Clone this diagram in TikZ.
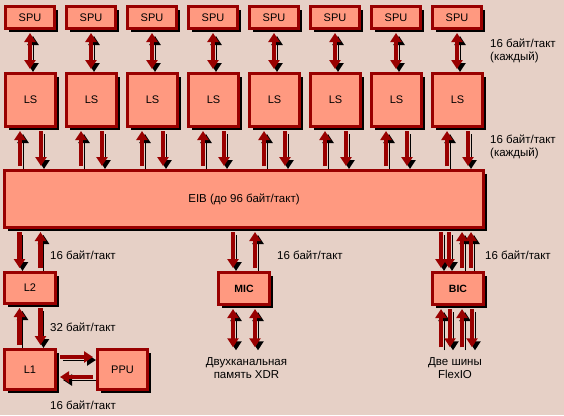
\documentclass[tikz,border=0pt]{standalone}
\usepackage{fontspec}
\setmainfont{Liberation Sans}
\usetikzlibrary{positioning,shadows,arrows.meta}
\definecolor{bgc}{HTML}{E6D0C6}
\definecolor{boxfill}{HTML}{FF9980}
\definecolor{boxline}{HTML}{990000}
\tikzstyle{blk} = [draw=boxline, fill=boxfill, line width=3pt, inner sep=0pt, font=\fontsize{11}{13}\selectfont, drop shadow={shadow xshift=3pt, shadow yshift=-3pt, fill=black, opacity=1}]
\tikzstyle{bus} = [line width=4.5pt, draw=boxline, -{Triangle[width=11pt,length=9pt]}, shorten <=3pt, shorten >=3pt, preaction={draw=black, transform canvas={xshift=3pt, yshift=-3pt}}]
\tikzstyle{bus2} = [bus, {Triangle[width=11pt,length=9pt]}-{Triangle[width=11pt,length=9pt]}]
\tikzstyle{rate} = [font=\fontsize{11.5}{13}\selectfont, inner sep=0pt, align=left]

\begin{document}
\begin{tikzpicture}[x=1pt,y=-1pt]
			\fill[bgc] (0,0) rectangle (564,415);
			% SPU and LS columns
			\foreach \i in {1,...,8}{
				\node[blk, minimum width=49pt, minimum height=22pt] (spu\i) at ({30+61*(\i-1)},17.5) {SPU};
				\node[blk, minimum width=50pt, minimum height=53pt] (ls\i) at ({30.5+61*(\i-1)},100) {LS};
			}
			\node[blk, minimum width=479pt, minimum height=57pt, font=\fontsize{11.5}{13}\selectfont] (eib) at (244,199) {EIB (до 96 байт/такт)};
			\node[blk, minimum width=51pt, minimum height=31pt] (l2) at (30,288) {L2};
			\node[blk, minimum width=51pt, minimum height=40pt] (l1) at (30,369.5) {L1};
			\node[blk, minimum width=50pt, minimum height=40pt] (ppu) at (122.5,369.5) {PPU};
			\node[blk, minimum width=51pt, minimum height=32pt, font=\fontsize{10.5}{12}\bfseries\selectfont] (mic) at (244,288.5) {MIC};
			\node[blk, minimum width=51pt, minimum height=32pt, font=\fontsize{10.5}{12}\bfseries\selectfont] (bic) at (458,288.5) {BIC};
			\node[rate, align=center] (xdr) at (246.5,368) {Двухканальная\\память XDR};
			\node[rate, align=center] (flex) at (455,368) {Две шины\\FlexIO};
			% buses
			\foreach \i in {1,...,8}{
				\draw[bus2] (spu\i.south) -- (spu\i.south |- ls\i.north);
				\draw[bus] ([xshift=-10.5pt]ls\i.south |- eib.north) -- ([xshift=-10.5pt]ls\i.south);
				\draw[bus] ([xshift=10.5pt]ls\i.south) -- ([xshift=10.5pt]ls\i.south |- eib.north);
			}
			\draw[bus] ([xshift=-10.5pt]l2.north |- eib.south) -- ([xshift=-10.5pt]l2.north);
			\draw[bus] ([xshift=10.5pt]l2.north) -- ([xshift=10.5pt]l2.north |- eib.south);
			\draw[bus] ([xshift=-10.5pt]l1.north) -- ([xshift=-10.5pt]l2.south);
			\draw[bus] ([xshift=10.5pt]l2.south) -- ([xshift=10.5pt]l1.north);
			\draw[bus] ([yshift=12.5pt]l1.east) -- ([yshift=12.5pt]ppu.west);
			\draw[bus] ([yshift=-7.5pt]ppu.west) -- ([yshift=-7.5pt]l1.east);
			\draw[bus] ([xshift=-11pt]mic.north |- eib.south) -- ([xshift=-11pt]mic.north);
			\draw[bus] ([xshift=11pt]mic.north) -- ([xshift=11pt]mic.north |- eib.south);
			\draw[bus2, shorten >=10pt] ([xshift=-11pt]mic.south) -- ([xshift=-11pt]mic.south |- xdr.north);
			\draw[bus2, shorten >=10pt] ([xshift=11pt]mic.south) -- ([xshift=11pt]mic.south |- xdr.north);
			\foreach \dx in {-17,-9}
				\draw[bus] ([xshift=\dx pt]bic.north |- eib.south) -- ([xshift=\dx pt]bic.north);
			\foreach \dx in {4,13}
				\draw[bus] ([xshift=\dx pt]bic.north) -- ([xshift=\dx pt]bic.north |- eib.south);
			\foreach \dx in {-17,4}
				\draw[bus, shorten <=10pt] ([xshift=\dx pt]bic.south |- flex.north) -- ([xshift=\dx pt]bic.south);
			\foreach \dx in {-8,14}
				\draw[bus, shorten >=10pt] ([xshift=\dx pt]bic.south) -- ([xshift=\dx pt]bic.south |- flex.north);
			% rates
			\node[rate, anchor=west] (r1) at (490,51) {16 байт/такт\\(каждый)};
			\node[rate, anchor=west] (r2) at (490,147) {16 байт/такт\\(каждый)};
			\node[rate, anchor=west] (r3) at (50,255) {16 байт/такт};
			\node[rate, anchor=west] (r4) at (50,327) {32 байт/такт};
			\node[rate] (r5) at (83,405) {16 байт/такт};
			\node[rate, anchor=west] (r6) at (277,255) {16 байт/такт};
			\node[rate, anchor=west] (r7) at (485,255) {16 байт/такт};
		\end{tikzpicture}
\end{document}
